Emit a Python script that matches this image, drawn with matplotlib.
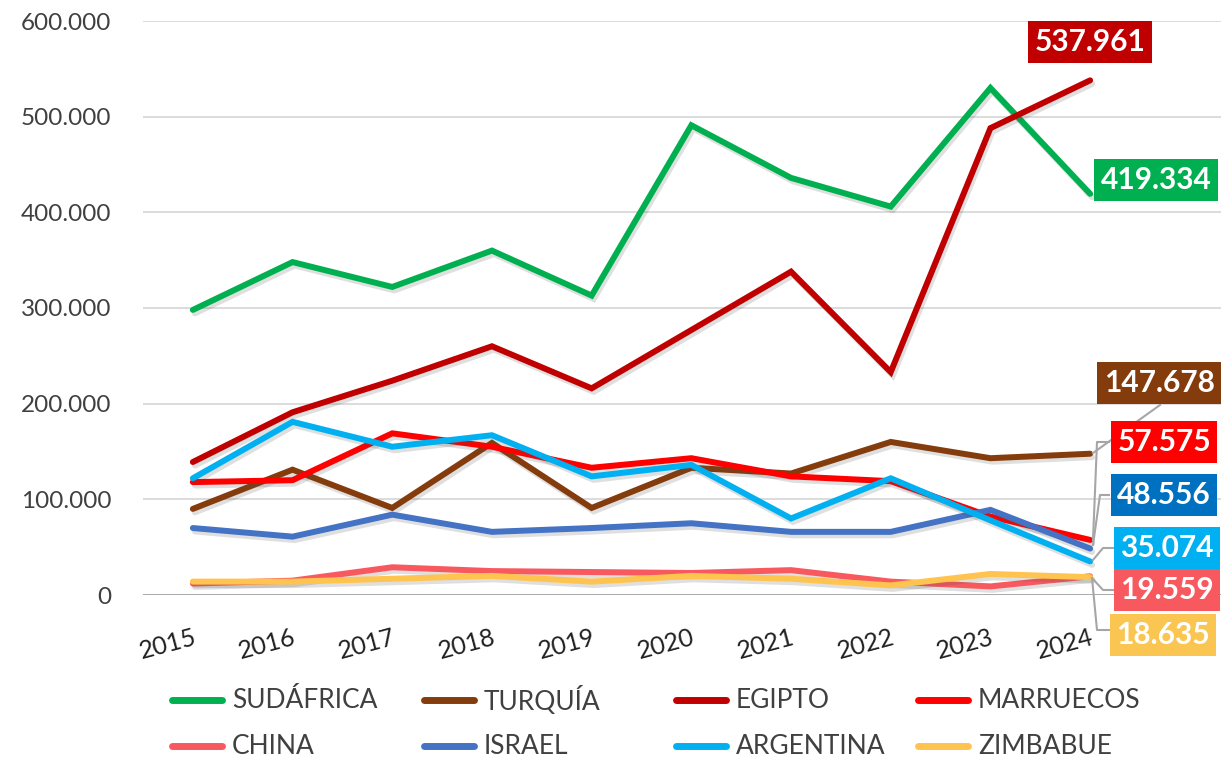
import matplotlib.pyplot as plt
import matplotlib.patheffects as pe

years = ["2015", "2016", "2017", "2018", "2019", "2020", "2021", "2022", "2023", "2024"]

sudafrica = [298000, 348000, 322000, 360000, 313000, 491000, 436000, 406000, 530000, 419334]
turquia = [90000, 131000, 91000, 159000, 91000, 133000, 127000, 160000, 143000, 147678]
egipto = [139000, 191000, 224000, 260000, 216000, 277000, 338000, 233000, 488000, 537961]
marruecos = [118000, 120000, 169000, 155000, 133000, 143000, 124000, 119000, 82000, 57575]
china = [12000, 15000, 29000, 25000, 24000, 23000, 26000, 14000, 9000, 19559]
israel = [70000, 61000, 84000, 66000, 70000, 75000, 66000, 66000, 89000, 48556]
argentina = [122000, 181000, 155000, 167000, 124000, 136000, 80000, 122000, 78000, 35074]
zimbabue = [14000, 14000, 17000, 20000, 14000, 20000, 17000, 10000, 22000, 18635]

names = ["SUDÁFRICA", "TURQUÍA", "EGIPTO", "MARRUECOS", "CHINA", "ISRAEL", "ARGENTINA", "ZIMBABUE"]
series = [sudafrica, turquia, egipto, marruecos, china, israel, argentina, zimbabue]
colors = ["#00B050", "#843C0C", "#C00000", "#FF0000", "#F8595F", "#4472C4", "#00B0F0", "#FFC44F"]
box_colors = ["#00B050", "#843C0C", "#C00000", "#FF0000", "#F8595F", "#0070C0", "#00B0F0", "#FAC550"]

# label box centres in figure pixels, and leader-line paths
label_pos = {
    "SUDÁFRICA": (1156, 180, None),
    "EGIPTO": (1090, 42, None),
    "TURQUÍA": (1159, 383, [(1093, 453), (1160, 405)]),
    "MARRUECOS": (1164, 442, [(1093, 540), (1097, 442), (1109, 442)]),
    "ISRAEL": (1164, 495, [(1093, 545), (1100, 495), (1109, 495)]),
    "ARGENTINA": (1167, 548, [(1093, 560), (1103, 548), (1115, 548)]),
    "CHINA": (1167, 590, [(1092, 578), (1103, 590), (1115, 590)]),
    "ZIMBABUE": (1163, 635, [(1092, 578), (1097, 630), (1110, 630)]),
}

W, H = 1221, 762
plt.rcParams['font.family'] = ['Lato', 'DejaVu Sans']

fig = plt.figure(figsize=(W / 100, H / 100), dpi=100)
ax = fig.add_axes([143 / W, 1 - 595 / H, 1 - 143 / W, (595 - 21) / H])

x = list(range(len(years)))
for name, vals, c in zip(names, series, colors):
    ax.plot(x, vals, color=c, lw=4.3, solid_capstyle='round', solid_joinstyle='miter',
            path_effects=[pe.SimpleLineShadow(offset=(1.5, -2.5), alpha=0.18, shadow_color='#505050'),
                          pe.Normal()])

ax.set_xlim(-0.5, 9 + (W - 1090) / 99.8)
ax.set_ylim(0, 600000)
ax.set_yticks([0, 100000, 200000, 300000, 400000, 500000, 600000])
ax.set_yticklabels(["0", "100.000", "200.000", "300.000", "400.000", "500.000", "600.000"],
                   fontsize=17.5, color="#404040")
ax.set_xticks(x)
ax.set_xticklabels(years, rotation=15, ha='right', rotation_mode='anchor',
                   fontsize=18, color="#202020")
ax.tick_params(length=0)
ax.tick_params(axis='y', pad=23)
ax.tick_params(axis='x', pad=22)
ax.grid(axis='y', color="#D9D9D9", lw=1.3)
ax.set_axisbelow(True)
for s in ax.spines.values():
    s.set_visible(False)
ax.axhline(0, color="#A6A6A6", lw=2, zorder=1)

# value labels
for name, vals, bc in zip(names, series, box_colors):
    cx, cy, path = label_pos[name]
    if path:
        xs = [p[0] / W for p in path]
        ys = [1 - p[1] / H for p in path]
        fig.add_artist(plt.Line2D(xs, ys, color="#A6A6A6", lw=1.5, zorder=5))
    txt = f"{vals[-1]:,}".replace(",", ".")
    fig.text(cx / W, 1 - cy / H, txt, ha='center', va='center', fontsize=21.5,
             fontweight='bold', color='white', zorder=6,
             bbox=dict(boxstyle='square,pad=0.22', fc=bc, ec='none'))

# legend, laid out in a fixed grid like the source
col_x = [172, 424, 676, 918]
row_y = [700, 746]
for i, (name, c) in enumerate(zip(names, colors)):
    lx = col_x[i % 4]
    ly = row_y[i // 4]
    fig.add_artist(plt.Line2D([lx / W, (lx + 50) / W], [1 - ly / H, 1 - ly / H],
                              color=c, lw=5, solid_capstyle='round'))
    fig.text((lx + 60) / W, 1 - ly / H, name, ha='left', va='center',
             fontsize=19, color="#404040")

fig.savefig("out.png", dpi=100)
